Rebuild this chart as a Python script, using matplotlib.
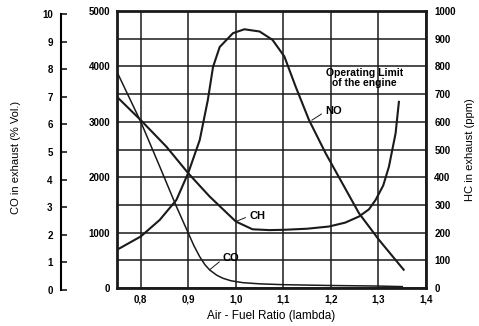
import matplotlib.pyplot as plt

# emissions vs air-fuel ratio (lambda), values read on the left scale (0-5000)
no_x = [0.75, 0.80, 0.84, 0.875, 0.90, 0.924, 0.941, 0.952, 0.966, 0.994, 1.018, 1.05, 1.077, 1.102,
        1.126, 1.154, 1.189, 1.224, 1.259, 1.301, 1.353]
no_y = [690, 930, 1230, 1590, 2080, 2670, 3390, 3990, 4350, 4600, 4670, 4630, 4480, 4180,
        3630, 3030, 2430, 1890, 1350, 870, 330]

ch_x = [0.75, 0.80, 0.854, 0.90, 0.945, 1.0, 1.035, 1.07, 1.10, 1.15, 1.196, 1.23, 1.259, 1.28, 1.294,
        1.31, 1.322, 1.336, 1.343]
ch_y = [3450, 3030, 2550, 2070, 1650, 1200, 1060, 1045, 1050, 1070, 1110, 1180, 1290, 1420, 1590,
        1850, 2190, 2790, 3360]

co_x = [0.75, 0.80, 0.84, 0.875, 0.90, 0.912, 0.924, 0.935, 0.945, 0.96, 0.973, 0.99, 1.015, 1.05,
        1.1, 1.2, 1.3, 1.35]
co_y = [3900, 3000, 2190, 1470, 990, 760, 565, 420, 325, 230, 175, 130, 96, 75,
        60, 45, 35, 25]

x_ticks = [0.8, 0.9, 1.0, 1.1, 1.2, 1.3, 1.4]
x_labels = ['0,8', '0,9', '1,0', '1,1', '1,2', '1,3', '1,4']
left_ticks = [0, 1000, 2000, 3000, 4000, 5000]
co_ticks = list(range(0, 11))
hc_ticks = list(range(0, 1001, 100))

plt.rcParams['font.family'] = ['Liberation Sans', 'DejaVu Sans']
ink = '#1a1a1a'

fig = plt.figure(figsize=(4.79, 3.26), dpi=100)
ax = fig.add_axes([117/479, 1 - 288/326, 309/479, 277/326])

ax.plot(no_x, no_y, color=ink, lw=1.5)
ax.plot(ch_x, ch_y, color=ink, lw=1.5)
ax.plot(co_x, co_y, color=ink, lw=1.1)

ax.set_xlim(0.75, 1.4)
ax.set_ylim(0, 5000)
ax.set_yticks(left_ticks)
ax.set_yticks(range(0, 5001, 500), minor=True)
ax.set_xticks(x_ticks)
ax.set_xticklabels(x_labels)
ax.tick_params(axis='both', which='both', length=0, labelsize=7)
ax.tick_params(axis='x', pad=5)
ax.tick_params(axis='y', pad=5)
for lab in ax.get_xticklabels() + ax.get_yticklabels():
    lab.set_fontweight('bold')
ax.grid(True, which='both', color=ink, lw=1.1)
for s in ax.spines.values():
    s.set_linewidth(2.0)
    s.set_color(ink)
ax.set_xlabel('Air - Fuel Ratio (lambda)', fontsize=8.5, labelpad=4)

# curve labels
ax.text(1.045, 1300, 'CH', fontsize=8, fontweight='bold', ha='center', va='center')
ax.plot([1.0, 1.02], [1200, 1270], color=ink, lw=0.7)
ax.text(0.99, 550, 'CO', fontsize=8, fontweight='bold', ha='center', va='center')
ax.plot([0.945, 0.965], [330, 470], color=ink, lw=0.7)
ax.text(1.205, 3190, 'NO', fontsize=8, fontweight='bold', ha='center', va='center')
ax.plot([1.16, 1.18], [3030, 3140], color=ink, lw=0.7)
ax.text(1.27, 3790, 'Operating Limit\nof the engine', fontsize=7.5, fontweight='bold',
        ha='center', va='center', linespacing=0.95)

# HC scale on the right
hc = ax.twinx()
hc.set_ylim(0, 1000)
hc.set_yticks(hc_ticks)
hc.tick_params(axis='y', length=0, labelsize=7, pad=6)
for lab in hc.get_yticklabels():
    lab.set_fontweight('bold')
for s in hc.spines.values():
    s.set_visible(False)
fig.text(470/479, 1 - 150/326, 'HC in exhaust (ppm)', rotation=90, fontsize=8,
         ha='center', va='center')

# CO scale on the far left
co = fig.add_axes([61/479, 1 - 290/326, 0.001, 276/326])
co.set_ylim(0, 10)
co.set_xticks([])
co.set_yticks(co_ticks)
co.tick_params(axis='y', direction='in', length=4, width=1.2, labelsize=7, pad=6, color=ink)
for lab in co.get_yticklabels():
    lab.set_fontweight('bold')
for name, s in co.spines.items():
    s.set_visible(name == 'left')
co.spines['left'].set_linewidth(1.5)
co.patch.set_visible(False)
fig.text(16/479, 1 - 157/326, 'CO in exhaust (% Vol.)', rotation=90, fontsize=8,
         ha='center', va='center')

fig.savefig('out.png', dpi=100)
